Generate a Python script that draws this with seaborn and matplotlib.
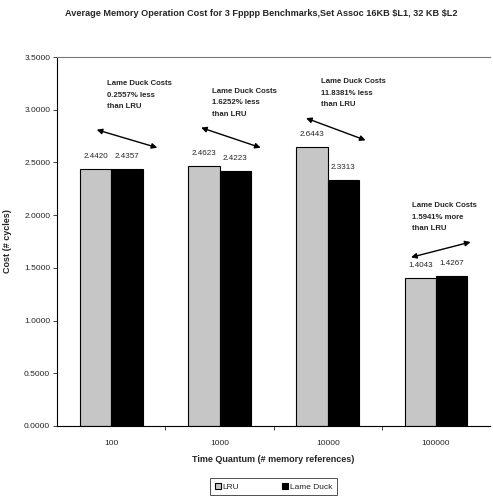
import matplotlib
matplotlib.use("Agg")
import matplotlib.pyplot as plt
import seaborn as sns
import pandas as pd

categories = ["100", "1000", "10000", "100000"]
lru = [2.4420, 2.4623, 2.6443, 1.4043]
lame_duck = [2.4357, 2.4223, 2.3313, 1.4267]
series_names = ["LRU", "Lame Duck"]
notes = ["Lame Duck Costs\n0.2557% less\nthan LRU",
         "Lame Duck Costs\n1.6252% less\nthan LRU",
         "Lame Duck Costs\n11.8381% less\nthan LRU",
         "Lame Duck Costs\n1.5941% more\nthan LRU"]
yticks = [0.0, 0.5, 1.0, 1.5, 2.0, 2.5, 3.0, 3.5]

sns.set_theme(style="white")
plt.rcParams['font.family'] = ['Liberation Sans Narrow', 'Liberation Sans', 'DejaVu Sans']

df = pd.DataFrame({
    "quantum": categories * 2,
    "cost": lru + lame_duck,
    "series": [series_names[0]] * 4 + [series_names[1]] * 4,
})

fig = plt.figure(figsize=(4.93, 5.0), dpi=100)
ax = fig.add_axes([0.116, 0.148, 0.878, 0.738])

sns.barplot(data=df, x="quantum", y="cost", hue="series", order=categories,
            hue_order=series_names, palette=["#c6c6c6", "#000000"],
            width=0.58, edgecolor="black", linewidth=0.8, ax=ax, errorbar=None)

ax.set_ylim(0, 3.5)
ax.set_xlim(-0.5, 3.5)
ax.set_yticks(yticks)
ax.set_yticklabels([f"{v:.4f}" for v in yticks], fontsize=6)
ax.set_xticks(range(len(categories)))
ax.set_xticklabels(categories, fontsize=6)
ax.tick_params(axis="x", length=0, pad=10)
ax.tick_params(axis="y", length=3, width=0.6, direction="out", left=True, pad=2)
ax.set_xticks([0.5, 1.5, 2.5], minor=True)
ax.tick_params(axis="x", which="minor", length=3, width=0.6, bottom=True, direction="out")

ax.spines["right"].set_visible(False)
ax.spines["top"].set_color("#777777")
ax.spines["top"].set_linewidth(0.8)
for side in ["left", "bottom"]:
    ax.spines[side].set_color("black")
    ax.spines[side].set_linewidth(0.8)

ax.set_xlabel("Time Quantum (# memory references)", fontsize=6.5, fontweight="bold", labelpad=6)
ax.set_ylabel("Cost (# cycles)", fontsize=6.5, fontweight="bold")
ax.yaxis.set_label_coords(-0.105, 0.5)
fig.suptitle("Average Memory Operation Cost for 3 Fpppp Benchmarks,Set Assoc 16KB \\$L1, 32 KB \\$L2",
             fontsize=6.6, fontweight="bold", x=0.53, y=0.982)

for cont in ax.containers:
    for bar in cont:
        h = bar.get_height()
        ax.annotate(f"{h:.4f}", (bar.get_x() + bar.get_width() / 2, h),
                    xytext=(0, 9), textcoords="offset points",
                    ha="center", va="center", fontsize=5.8)

note_pos = [(-0.04, 3.28), (0.93, 3.21), (1.94, 3.30), (2.78, 2.12)]
arrows = [((-0.135, 2.81), (0.425, 2.64)),
          ((0.83, 2.83), (1.38, 2.64)),
          ((1.80, 2.92), (2.35, 2.71)),
          ((2.77, 1.60), (3.32, 1.745))]
for text, (tx, ty), (a, b) in zip(notes, note_pos, arrows):
    ax.text(tx, ty, text, fontsize=5.6, fontweight="bold", ha="left", va="top",
            linespacing=1.9)
    ax.annotate("", xy=b, xytext=a,
                arrowprops=dict(arrowstyle="<|-|>", color="black", lw=1.0,
                                mutation_scale=8, shrinkA=0, shrinkB=0))

leg = ax.legend(loc="upper center", bbox_to_anchor=(0.5, -0.142), ncol=2,
                fontsize=6, frameon=True, fancybox=False, edgecolor="black",
                handlelength=0.7, handleheight=0.7, handletextpad=0.2,
                columnspacing=5.2, borderpad=0.55, borderaxespad=0)
leg.get_frame().set_linewidth(0.6)
leg.set_title(None)

fig.savefig("out.png", dpi=100)
